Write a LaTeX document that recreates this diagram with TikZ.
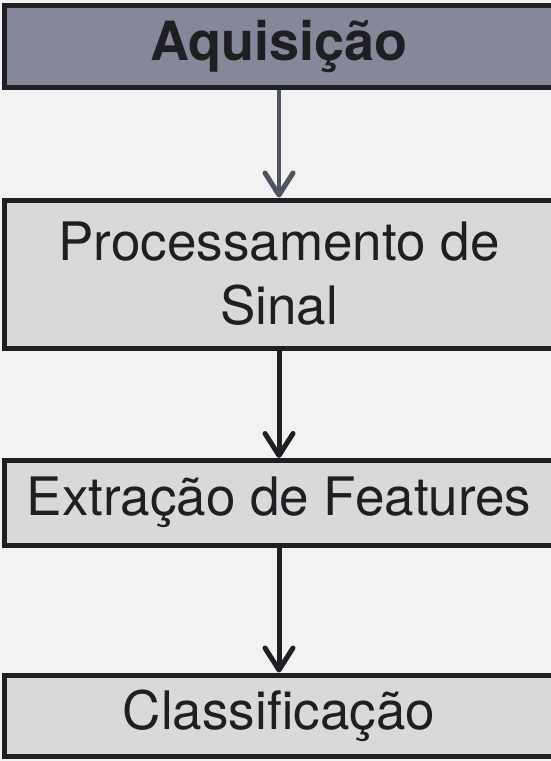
\documentclass[tikz,border=0pt]{standalone}
\usepackage{fontspec}
\setmainfont{TeX Gyre Heros}
\usetikzlibrary{arrows.meta}

\definecolor{fundo}{HTML}{F2F2F2}
\definecolor{caixa}{HTML}{D9D9D9}
\definecolor{topo}{HTML}{858899}
\definecolor{borda}{HTML}{1F1F23}
\definecolor{seta}{HTML}{50535F}

\begin{document}
\begin{tikzpicture}[x=1pt,y=-1pt,
    etapa/.style={rectangle,draw=borda,fill=caixa,line width=5pt,
      minimum width=549pt,align=center,text=borda,
      font=\fontsize{53}{64}\selectfont},
    fluxo/.style={draw=borda,line width=5pt,
      -{Straight Barb[length=22pt,width=28pt,line width=5pt,round]}}]
    \fill[fundo] (0,0) rectangle (551,761);
    \useasboundingbox (0,0) rectangle (551,761);

    \node[etapa,fill=topo,minimum height=82.5pt,font=\fontsize{54}{64}\selectfont\bfseries] (aq) at (279,46.25) {Aquisição};
    \node[etapa,minimum height=148pt] (proc) at (279,274) {Processamento de\\Sinal};
    \node[etapa,minimum height=84.5pt] (ext) at (279,502.75) {Extração de Features};
    \node[etapa,minimum height=81.5pt] (cls) at (279,715.75) {Classificação};

    \draw[fluxo,draw=seta,line width=4.5pt] (aq) -- (proc);
    \draw[fluxo] (proc) -- (ext);
    \draw[fluxo] (ext) -- (cls);
\end{tikzpicture}
\end{document}
